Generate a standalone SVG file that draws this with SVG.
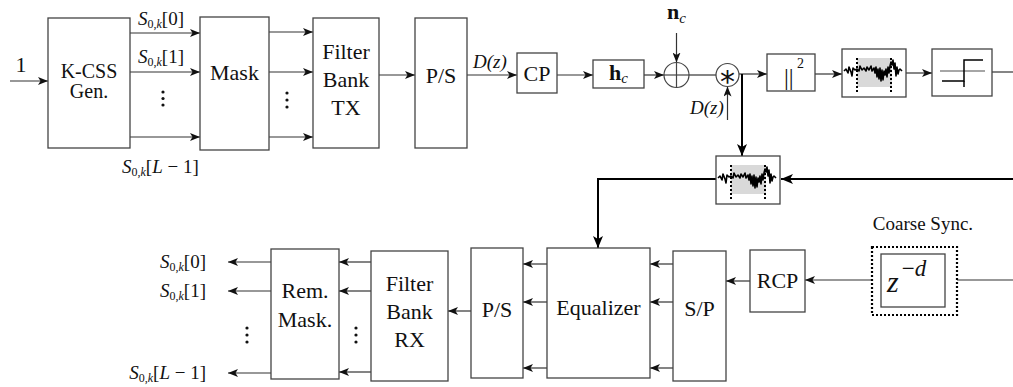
<svg xmlns="http://www.w3.org/2000/svg" width="1013" height="387" viewBox="0 0 1013 387">
<style>
.box{fill:#fff;stroke:#444;stroke-width:1.3}
.ln{fill:none;stroke:#333;stroke-width:1.2}
.thk{fill:none;stroke:#000;stroke-width:2}
.t{font-family:"Liberation Serif","Times New Roman",serif;font-size:22px;fill:#111;text-anchor:middle}
.s{font-family:"Liberation Serif","Times New Roman",serif;font-size:19px;fill:#111;font-style:italic}
.dot{fill:#111}
</style>
<defs>
<marker id="ah" markerUnits="userSpaceOnUse" markerWidth="10" markerHeight="8" refX="10" refY="4" orient="auto">
<path d="M0,0 L10,4 L0,8 L2.5,4 z" fill="#111"/>
</marker>
<marker id="ahb" markerUnits="userSpaceOnUse" markerWidth="12" markerHeight="10" refX="12" refY="5" orient="auto">
<path d="M0,0 L12,5 L0,10 L3,5 z" fill="#000"/>
</marker>
<g id="corr">
<rect x="0" y="0" width="64" height="48" class="box"/>
<rect x="15" y="9" width="35" height="29" fill="#d9d9d9"/>
<line x1="15" y1="9" x2="15" y2="43" stroke="#000" stroke-width="2" stroke-dasharray="2,2"/>
<line x1="49" y1="9" x2="49" y2="43" stroke="#000" stroke-width="2" stroke-dasharray="2,2"/>
<polyline fill="none" stroke="#000" stroke-width="1.6" stroke-linejoin="round" points="2,22 4,20 6,24 7,18 9,23 10,27 11,19 13,21 15,20 17,22 18,17 20,21 22,19 24,22 25,18 27,21 29,17 30,22 32,19 33,24 34,18 35,28 36,20 37,30 38,19 39,32 40,21 41,31 42,22 43,26 44,20 45,28 46,18 47,24 48,17 49,13 50,16 51,11 52,20 53,14 54,27 55,18 56,25 57,21 58,20 60,22"/>
</g>
</defs>
<rect width="1013" height="387" fill="#fff"/>

<g id="connectors">
<line class="ln" x1="10" y1="81" x2="48" y2="81" marker-end="url(#ah)"/>
<line class="ln" x1="130" y1="33" x2="200" y2="33" marker-end="url(#ah)"/>
<line class="ln" x1="130" y1="72" x2="200" y2="72" marker-end="url(#ah)"/>
<line class="ln" x1="130" y1="137" x2="200" y2="137" marker-end="url(#ah)"/>
<line class="ln" x1="269" y1="32" x2="313" y2="32" marker-end="url(#ah)"/>
<line class="ln" x1="269" y1="72" x2="313" y2="72" marker-end="url(#ah)"/>
<line class="ln" x1="269" y1="137" x2="313" y2="137" marker-end="url(#ah)"/>
<line class="ln" x1="379" y1="75" x2="415" y2="75" marker-end="url(#ah)"/>
<line class="ln" x1="467" y1="75" x2="517" y2="75" marker-end="url(#ah)"/>
<line class="ln" x1="557" y1="75" x2="593" y2="75" marker-end="url(#ah)"/>
<line class="ln" x1="644" y1="75" x2="664" y2="75" marker-end="url(#ah)"/>
<line class="ln" x1="676.5" y1="33" x2="676.5" y2="62.5" marker-end="url(#ah)"/>
<line class="ln" x1="689" y1="75" x2="716" y2="75"/>
<line class="ln" x1="727.5" y1="120" x2="727.5" y2="86.5" marker-end="url(#ah)"/>
<line class="ln" x1="739" y1="74" x2="767" y2="74" marker-end="url(#ah)"/>
<line class="ln" x1="815" y1="74" x2="842" y2="74" marker-end="url(#ah)"/>
<line class="ln" x1="906" y1="73" x2="932" y2="73" marker-end="url(#ah)"/>
<line class="ln" x1="992" y1="72" x2="1013" y2="72"/>
<line class="thk" x1="742" y1="74" x2="742" y2="156" marker-end="url(#ahb)"/>
<line class="thk" x1="1013" y1="179" x2="781" y2="179" marker-end="url(#ahb)"/>
<polyline class="thk" points="716,179 598,179 598,248" marker-end="url(#ahb)"/>
<line class="ln" x1="1013" y1="280" x2="945" y2="280" marker-end="url(#ah)"/>
<line class="ln" x1="872" y1="280" x2="805" y2="280" marker-end="url(#ah)"/>
<line class="ln" x1="750" y1="281" x2="726" y2="281" marker-end="url(#ah)"/>
<line class="ln" x1="673" y1="264" x2="650" y2="264" marker-end="url(#ah)"/>
<line class="ln" x1="673" y1="302" x2="650" y2="302" marker-end="url(#ah)"/>
<line class="ln" x1="673" y1="368" x2="650" y2="368" marker-end="url(#ah)"/>
<line class="ln" x1="547" y1="264" x2="523" y2="264" marker-end="url(#ah)"/>
<line class="ln" x1="547" y1="302" x2="523" y2="302" marker-end="url(#ah)"/>
<line class="ln" x1="547" y1="368" x2="523" y2="368" marker-end="url(#ah)"/>
<line class="ln" x1="471" y1="311" x2="448" y2="311" marker-end="url(#ah)"/>
<line class="ln" x1="371" y1="262" x2="339" y2="262" marker-end="url(#ah)"/>
<line class="ln" x1="371" y1="291" x2="339" y2="291" marker-end="url(#ah)"/>
<line class="ln" x1="371" y1="372" x2="339" y2="372" marker-end="url(#ah)"/>
<line class="ln" x1="271" y1="262" x2="228" y2="262" marker-end="url(#ah)"/>
<line class="ln" x1="271" y1="291" x2="228" y2="291" marker-end="url(#ah)"/>
<line class="ln" x1="271" y1="373" x2="228" y2="373" marker-end="url(#ah)"/>
</g>

<g id="labels">
<text class="t" x="21" y="72">1</text>
<text class="s" x="138" y="25">S<tspan font-size="12" dy="3" font-style="normal">0,</tspan><tspan font-size="12">k</tspan><tspan dy="-3" font-style="normal">[0]</tspan></text>
<text class="s" x="138" y="63">S<tspan font-size="12" dy="3" font-style="normal">0,</tspan><tspan font-size="12">k</tspan><tspan dy="-3" font-style="normal">[1]</tspan></text>
<text class="s" x="122" y="173">S<tspan font-size="12" dy="3" font-style="normal">0,</tspan><tspan font-size="12">k</tspan><tspan dy="-3" font-style="normal">[</tspan>L<tspan font-style="normal"> − 1]</tspan></text>
<circle class="dot" cx="163" cy="92" r="1.6"/><circle class="dot" cx="163" cy="98.5" r="1.6"/><circle class="dot" cx="163" cy="105" r="1.6"/>
<circle class="dot" cx="287" cy="93" r="1.6"/><circle class="dot" cx="287" cy="100" r="1.6"/><circle class="dot" cx="287" cy="107" r="1.6"/>
<text class="s" x="473" y="68">D(z)</text>
<text class="s" x="690" y="114">D(z)</text>
<text class="t" x="667" y="19" style="text-anchor:start;font-weight:bold">n<tspan font-weight="normal" font-style="italic" font-size="15" dy="4">c</tspan></text>
<text class="s" x="206" y="268" style="text-anchor:end">S<tspan font-size="12" dy="3" font-style="normal">0,</tspan><tspan font-size="12">k</tspan><tspan dy="-3" font-style="normal">[0]</tspan></text>
<text class="s" x="206" y="297" style="text-anchor:end">S<tspan font-size="12" dy="3" font-style="normal">0,</tspan><tspan font-size="12">k</tspan><tspan dy="-3" font-style="normal">[1]</tspan></text>
<text class="s" x="206" y="379" style="text-anchor:end">S<tspan font-size="12" dy="3" font-style="normal">0,</tspan><tspan font-size="12">k</tspan><tspan dy="-3" font-style="normal">[</tspan>L<tspan font-style="normal"> − 1]</tspan></text>
<circle class="dot" cx="247" cy="328" r="1.6"/><circle class="dot" cx="247" cy="335" r="1.6"/><circle class="dot" cx="247" cy="342" r="1.6"/>
<circle class="dot" cx="356" cy="328" r="1.6"/><circle class="dot" cx="356" cy="335" r="1.6"/><circle class="dot" cx="356" cy="342" r="1.6"/>
<text class="t" x="923" y="230" style="font-size:19px">Coarse Sync.</text>
</g>

<g id="kcss"><rect class="box" x="48" y="18" width="82" height="130"/><text class="t" x="89" y="78" style="font-size:20px">K-CSS</text><text class="t" x="89" y="98" style="font-size:20px">Gen.</text></g>
<g id="mask"><rect class="box" x="200" y="17" width="69" height="133"/><text class="t" x="234.5" y="80">Mask</text></g>
<g id="fbtx"><rect class="box" x="313" y="18" width="66" height="130"/><text class="t" x="346" y="59">Filter</text><text class="t" x="346" y="87">Bank</text><text class="t" x="346" y="115">TX</text></g>
<g id="ps-tx"><rect class="box" x="415" y="18" width="52" height="130"/><text class="t" x="441" y="83">P/S</text></g>
<g id="cp"><rect class="box" x="517" y="53" width="40" height="40"/><text class="t" x="537" y="81">CP</text></g>
<g id="hc"><rect class="box" x="593" y="60" width="51" height="28"/><text class="t" x="609" y="80" style="text-anchor:start;font-weight:bold">h<tspan font-weight="normal" font-style="italic" font-size="15" dy="3">c</tspan></text></g>
<g id="adder"><circle cx="676.5" cy="75" r="12.5" fill="#fff" stroke="#444" stroke-width="1.2"/><line x1="664" y1="75" x2="689" y2="75" stroke="#444" stroke-width="1.2"/><line x1="676.5" y1="62.5" x2="676.5" y2="87.5" stroke="#444" stroke-width="1.2"/></g>
<g id="conv"><circle cx="727.5" cy="75" r="11.5" fill="#fff" stroke="#444" stroke-width="1.2"/><text x="727.5" y="92" font-family="DejaVu Sans, sans-serif" font-size="30" text-anchor="middle" fill="#111">*</text></g>
<g id="abs2"><rect class="box" x="767" y="54" width="48" height="37"/><text class="t" x="784" y="85" style="text-anchor:start;font-size:24px">||</text><text class="t" x="797" y="68" style="text-anchor:start;font-size:14px">2</text></g>
<g id="corr1"><use href="#corr" x="842" y="49"/></g>
<g id="thresh"><rect class="box" x="932" y="49" width="60" height="47"/><line x1="940" y1="71" x2="985" y2="71" stroke="#888" stroke-width="1.3"/><polyline points="942,81 964,81 964,60 983,60" fill="none" stroke="#000" stroke-width="1.5"/><line x1="964" y1="81" x2="964" y2="87" stroke="#000" stroke-width="1.5"/></g>
<g id="corr2"><use href="#corr" x="716" y="156"/></g>

<g id="remmask"><rect class="box" x="271" y="249" width="68" height="130"/><text class="t" x="305" y="298">Rem.</text><text class="t" x="305" y="327">Mask.</text></g>
<g id="fbrx"><rect class="box" x="371" y="251" width="77" height="130"/><text class="t" x="409.5" y="291">Filter</text><text class="t" x="409.5" y="319">Bank</text><text class="t" x="409.5" y="347">RX</text></g>
<g id="ps-rx"><rect class="box" x="471" y="248" width="52" height="130"/><text class="t" x="497" y="317">P/S</text></g>
<g id="equalizer"><rect class="box" x="547" y="248" width="103" height="130"/><text class="t" x="598.5" y="315">Equalizer</text></g>
<g id="sp"><rect class="box" x="673" y="251" width="53" height="130"/><text class="t" x="699.5" y="316">S/P</text></g>
<g id="rcp"><rect class="box" x="750" y="250" width="55" height="62"/><text class="t" x="777.5" y="288">RCP</text></g>
<g id="delay"><rect x="872" y="247" width="85" height="68" fill="#fff" stroke="#000" stroke-width="2.2" stroke-dasharray="2,2"/><rect class="box" x="881" y="254" width="64" height="53"/><text class="t" x="887" y="292" style="text-anchor:start;font-style:italic;font-size:30px">z<tspan font-style="normal" font-size="23" dx="3" dy="-16">−</tspan><tspan font-size="23">d</tspan></text></g>
</svg>
